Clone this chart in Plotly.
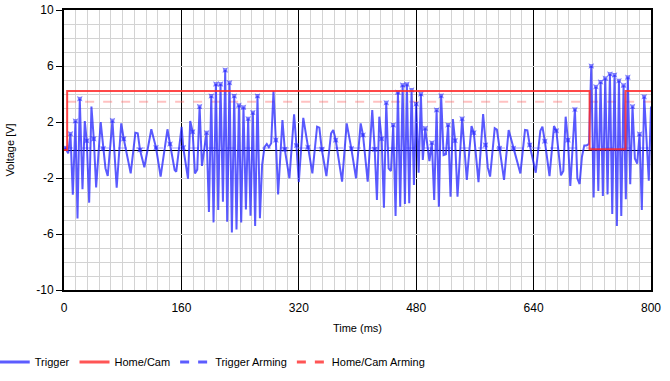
import plotly.graph_objects as go

# Trigger signal samples: time (ms), voltage (V), marker flag
trig_t = [1.5, 5.7, 8.8, 12, 15.6, 18.4, 21.5, 25.2, 28.3, 31, 34.3, 37.4, 40.6, 43.8, 50, 53.3, 56.5, 59.6,
          66, 71.8, 78, 81.4, 90.9, 97.3, 100.5, 103.6, 109.5, 119, 125.4, 131.7, 141, 144.5, 150.8, 153,
          160.3, 162.5, 169, 172, 175.3, 178.5, 181.6, 184.8, 188, 194.3, 197.5, 200.7, 203.8, 207, 210.2,
          213.3, 216.6, 219.7, 222.4, 225.6, 228.8, 232, 235.1, 238.4, 241.5, 244.6, 247.9, 251, 254.2,
          257.4, 260.5, 263.7, 267, 270, 273.2, 276.4, 279.2, 282.4, 285.5, 288.7, 291.8, 297.7, 300.9,
          307.2, 313.6, 316.8, 320, 326.1, 332.5, 338.5, 344.9, 348, 351.3, 357.6, 364, 367, 370.3, 379,
          385.3, 391.6, 398, 404.3, 407.5, 413.9, 420.1, 423.4, 426.5, 429.7, 432.9, 436, 439.2, 442.4,
          445.6, 448.7, 451.9, 455.1, 458.2, 461.5, 464.6, 467.3, 470.5, 473.7, 476.9, 480, 483.3, 486.4,
          489, 492.3, 498, 501.4, 504.5, 507.8, 510.9, 514, 517.3, 520.5, 523.5, 526.8, 530, 533, 536.3,
          542.6, 549, 555.4, 558.5, 564.9, 571.2, 574.4, 577.6, 580.7, 587, 590, 593.5, 599.7, 606, 612.5,
          618.8, 622, 628.3, 631.5, 634.7, 642.9, 649.2, 652, 655.3, 661.7, 667.8, 671, 677.3, 680.5, 683.7,
          686.8, 690, 696.3, 699.6, 702.7, 705.9, 709.1, 712.3, 715.5, 718.6, 721.8, 724.9, 728.2, 731.3,
          734.4, 737.7, 740.8, 744, 747.2, 750.3, 753.5, 756.3, 759.5, 762.6, 765.7, 768.4, 771.7, 774.8,
          778, 781.2, 784.4, 787.5, 790.7, 797, 800]
trig_v = [0.16, -0.24, 1.16, -3.2, 2.07, -4.9, 3.66, -2.8, 2.07, 0.66, -3.76, 3.1, 0.8, -2.67, 2.0, 0.1, -1.3, -1.86,
          2.1, -2.7, 1.9, 0.8, -1.67, 1.24, 1.2, 0.0, -1.24, 1.48, 0.17, -1.9, 1.48, 0.43, -1.43, -1.55,
          1.66, 0.17, -2.05, 2.07, 1.31, -1.67, -1.4, 3.1, -1.14, 1.24, -4.43, 3.86, -5.17, 4.71, -4.29,
          4.71, -3.69, 5.71, -5.12, 4.81, -5.9, 3.86, -5.67, 3.19, -5.17, 3.05, -4.24, 2.24, -4.69,
          2.67, -5.43, 3.86, -4.88, -1.07, 0.2, 0.43, 0.2, 0.48, 4.21, 0.71, -3.17, 2.14, 0.05,
          -2.02, 2.55, 0.33, -2.29, 2.3, 0.19, -1.67, 1.67, 1.6, 0.05, -1.86, 1.19, 1.43, 0.71, -2.26,
          1.9, 0.1, -2.02, 1.9, 1.07, -2.26, 2.86, 0.05, -3.57, 2.38, 0.81, -4.12, 3.38, -1.31,
          -1.5, 1.79, -4.71, 4.12, -4.05, 4.64, -3.86, 4.69, -3.81, 4.29, -2.5, 3.29, -1.62, 4.0,
          -0.71, 1.55, -0.8, 0.52, -3.57, 2.86, -4.05, 3.88, -0.36, -0.3, 1.79, -3.33, 2.21, 0.67, -3.33,
          2.24, -2.14, 1.71, 1.24, -2.29, 2.57, 0.36, -1.26, -1.9, 1.55, 1.45, 0.12, -2.14, 1.43, 0.12,
          -1.0, -1.67, 1.43, 1.4, 0.36, -1.62, 1.38, 1.67, 0.63, -1.86, 1.71, 1.38, -1.81, -1.5, 2.38,
          0.71, -2.57, 2.9, -2.02, -2.43, -0.48, 0.33, 0.33, 0.43, 6.0, -3.4, 4.52, -2.93, 4.86,
          -3.29, 5.12, -3.17, 5.43, -4.57, 5.36, -5.43, 4.95, -4.71, 4.62, -3.52, 5.19, -2.45, 3.1,
          -0.6, -0.98, 1.14, -4.29, 3.81, -2.19, 3.1]
trig_marked = [1.5, 8.8, 15.6, 21.5, 31, 40.6, 53.3, 66, 81.4, 103.6, 125.4, 144.5, 162.5, 175.3, 184.8,
               194.3, 200.7, 207, 213.3, 219.7, 225.6, 232, 238.4, 244.6, 251, 257.4, 263.7, 288.7, 300.9,
               316.8, 332.5, 351.3, 370.3, 391.6, 407.5, 423.4, 432.9, 439.2, 448.7, 455.1, 461.5, 467.3,
               473.7, 480, 486.4, 492.3, 501.4, 507.8, 514, 523.5, 533, 542.6, 558.5, 574.4, 593.5, 612.5,
               634.7, 655.3, 671, 686.8, 696.3, 718.6, 724.9, 731.3, 737.7, 744, 750.3, 756.3, 762.6, 768.4,
               774.8, 784.4, 790.7]

home_t = [0, 4.3, 716.3, 765.3, 800]
home_v = [0, 4.22, 0.05, 4.22, 4.22]

trig_arm_t = [0, 800]
trig_arm_v = [0.14, 0.14]
home_arm_t = [4.3, 800]
home_arm_v = [3.45, 3.45]

x_ticks = [0, 160, 320, 480, 640, 800]
y_ticks = [-10, -6, -2, 2, 6, 10]

marked_set = set(trig_marked)
marker_sizes = [5 if t in marked_set else 0 for t in trig_t]

FONT = "Liberation Sans"

fig = go.Figure()
fig.add_trace(go.Scatter(
    x=trig_arm_t, y=trig_arm_v, mode="lines", name="Trigger Arming",
    line=dict(color="rgba(120,120,255,0.35)", width=2, dash="dash"), showlegend=False))
fig.add_trace(go.Scatter(
    x=home_arm_t, y=home_arm_v, mode="lines", name="Home/Cam Arming",
    line=dict(color="rgba(255,100,100,0.4)", width=2, dash="dash"), showlegend=False))
fig.add_trace(go.Scatter(
    x=trig_t, y=trig_v, mode="lines+markers", name="Trigger",
    line=dict(color="rgba(35,35,255,0.75)", width=2),
    marker=dict(symbol="star-square", size=marker_sizes, color="rgba(35,35,255,0.85)",
                line=dict(width=0)),
    showlegend=False))
fig.add_trace(go.Scatter(
    x=home_t, y=home_v, mode="lines", name="Home/Cam", line_shape="hv",
    line=dict(color="rgba(255,40,40,0.85)", width=2), showlegend=False))

# legend entries
legend_items = [("Trigger", "#5c5cff", "solid"), ("Home/Cam", "#ff5555", "solid"),
                ("Trigger Arming", "#5c5cff", "dash"), ("Home/Cam Arming", "#ff5555", "dash")]
for name, col, dash in legend_items:
    fig.add_trace(go.Scatter(x=[None], y=[None], mode="lines", name=name,
                             line=dict(color=col, width=3, dash=dash)))

fig.update_layout(
    width=670, height=381,
    margin=dict(l=63.5, r=18.5, t=10, b=91, autoexpand=False),
    plot_bgcolor="white", paper_bgcolor="white",
    font=dict(family=FONT, size=12, color="black"),
    showlegend=True,
    legend=dict(orientation="h", x=-0.118, xanchor="left", y=-0.257, yanchor="middle",
                font=dict(family=FONT, size=11, color="black"), itemwidth=30,
                tracegroupgap=0, bgcolor="rgba(0,0,0,0)"),
    xaxis=dict(range=[0, 800], tickvals=x_ticks, ticktext=[str(v) for v in x_ticks],
               automargin=False, ticklabeloverflow="allow", ticklabelstandoff=6,
               showgrid=True, gridcolor="black", gridwidth=1,
               minor=dict(dtick=16, tick0=0, showgrid=True, gridcolor="#d3d3d3", gridwidth=1),
               showline=True, linecolor="black", linewidth=2, mirror=True,
               ticks="", zeroline=False,
               title=dict(text="Time (ms)", standoff=10, font=dict(size=11)),
               tickfont=dict(size=12)),
    yaxis=dict(range=[-10, 10], tickvals=y_ticks, ticktext=[str(v) for v in y_ticks],
               automargin=False, ticklabeloverflow="allow",
               showgrid=True, gridcolor="#d3d3d3", gridwidth=1,
               minor=dict(dtick=1, tick0=0, showgrid=True, gridcolor="#d3d3d3", gridwidth=1),
               showline=True, linecolor="black", linewidth=2, mirror=True,
               ticks="outside", ticklen=6, tickcolor="black",
               zeroline=True, zerolinecolor="black", zerolinewidth=1,
               title=dict(text="Voltage [V]", standoff=19, font=dict(size=11)),
               tickfont=dict(size=12)),
)

# remove the default 8px page margin so the figure fills the window exactly
fig.write_html("out.html", config={"displayModeBar": False},
               post_script="document.body.style.margin='0px';")
